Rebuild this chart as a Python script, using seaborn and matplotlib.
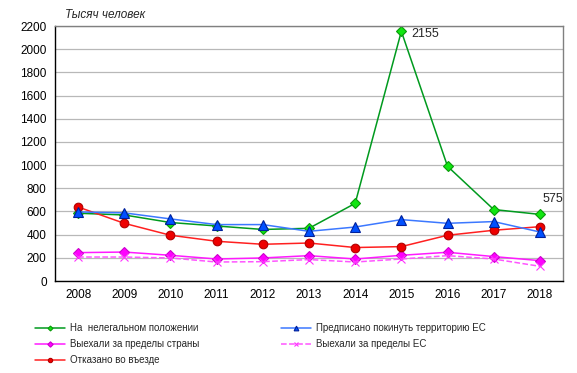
import matplotlib
matplotlib.use("Agg")
import matplotlib.pyplot as plt
import seaborn as sns
import pandas as pd

# values (thousand people)
years = [2008, 2009, 2010, 2011, 2012, 2013, 2014, 2015, 2016, 2017, 2018]
illegal = [585, 570, 505, 475, 445, 455, 670, 2155, 990, 617, 575]
ordered_leave = [596, 588, 536, 487, 487, 429, 466, 530, 498, 513, 423]
left_country = [245, 250, 222, 190, 199, 219, 190, 222, 248, 211, 176]
left_eu = [207, 207, 199, 164, 167, 185, 164, 190, 219, 190, 127]
refused = [639, 498, 395, 343, 317, 328, 289, 297, 395, 438, 469]

labels = [
    "На  нелегальном положении",
    "Выехали за пределы страны",
    "Отказано во въезде",
    "Предписано покинуть территорию ЕС",
    "Выехали за пределы ЕС",
]

sns.set_theme(style="white")
plt.rcParams['font.family'] = ['Liberation Sans', 'DejaVu Sans']

fig = plt.figure(figsize=(5.77, 3.73), dpi=100)
ax = fig.add_axes([0.0953, 0.2466, 0.8804, 0.6834])

# series: values, line colour, marker, marker face, marker edge, size, linestyle
series = [
    (illegal, "#009a1e", "D", "#11e611", "#0a9a0a", 5, "-"),
    (left_country, "#ff1aff", "D", "#ff00ff", "#cc00cc", 5.5, "-"),
    (refused, "#ff2020", "o", "#ee0000", "#b00000", 6.2, "-"),
    (ordered_leave, "#3c78ff", "^", "#0050ff", "#00209a", 6.8, "-"),
    (left_eu, "#ff55ff", "x", "#ff33ff", "#ff33ff", 5.5, "--"),
]

handles = []
for (vals, col, mk, mfc, mec, ms, ls), lab in zip(series, labels):
    df = pd.DataFrame({"year": years, "value": vals})
    sns.lineplot(data=df, x="year", y="value", ax=ax, color=col, lw=1.1,
                 linestyle=ls, marker=mk, markersize=ms, markerfacecolor=mfc,
                 markeredgecolor=mec, markeredgewidth=0.8, label=lab, legend=False)
    handles.append(ax.lines[-1])

ax.set_xlim(years[0] - 0.5, years[-1] + 0.5)
ax.set_ylim(0, 2200)
ax.set_yticks(range(0, 2201, 200))
ax.set_xticks(years)
ax.set_xlabel("")
ax.set_ylabel("")
ax.tick_params(axis="both", labelsize=8.5, colors="black", length=0, pad=6)
ax.yaxis.grid(True, color="#b8b8b8", lw=0.9)
ax.set_axisbelow(True)
for side in ["left", "bottom"]:
    ax.spines[side].set_color("black")
    ax.spines[side].set_linewidth(1.0)
for side in ["top", "right"]:
    ax.spines[side].set_color("#808080")
    ax.spines[side].set_linewidth(1.0)

ax.annotate("2155", (2015, 2155), xytext=(7, -2), textcoords="offset points",
            fontsize=9, va="center", ha="left")
ax.annotate("575", (2018, 575), xytext=(2, 11), textcoords="offset points",
            fontsize=9, va="center", ha="left")

fig.text(0.113, 0.96, "Тысяч человек", fontsize=8.5, style="italic", va="center")

leg = fig.legend(handles=handles, labels=labels, ncol=2, loc="upper left",
                 bbox_to_anchor=(0.0607, 0.134), frameon=False, fontsize=7,
                 borderpad=0, borderaxespad=0,
                 handlelength=3.1, handletextpad=0.5, columnspacing=8.4,
                 labelspacing=0.62, markerscale=0.5)

fig.savefig("out.png", dpi=100)
